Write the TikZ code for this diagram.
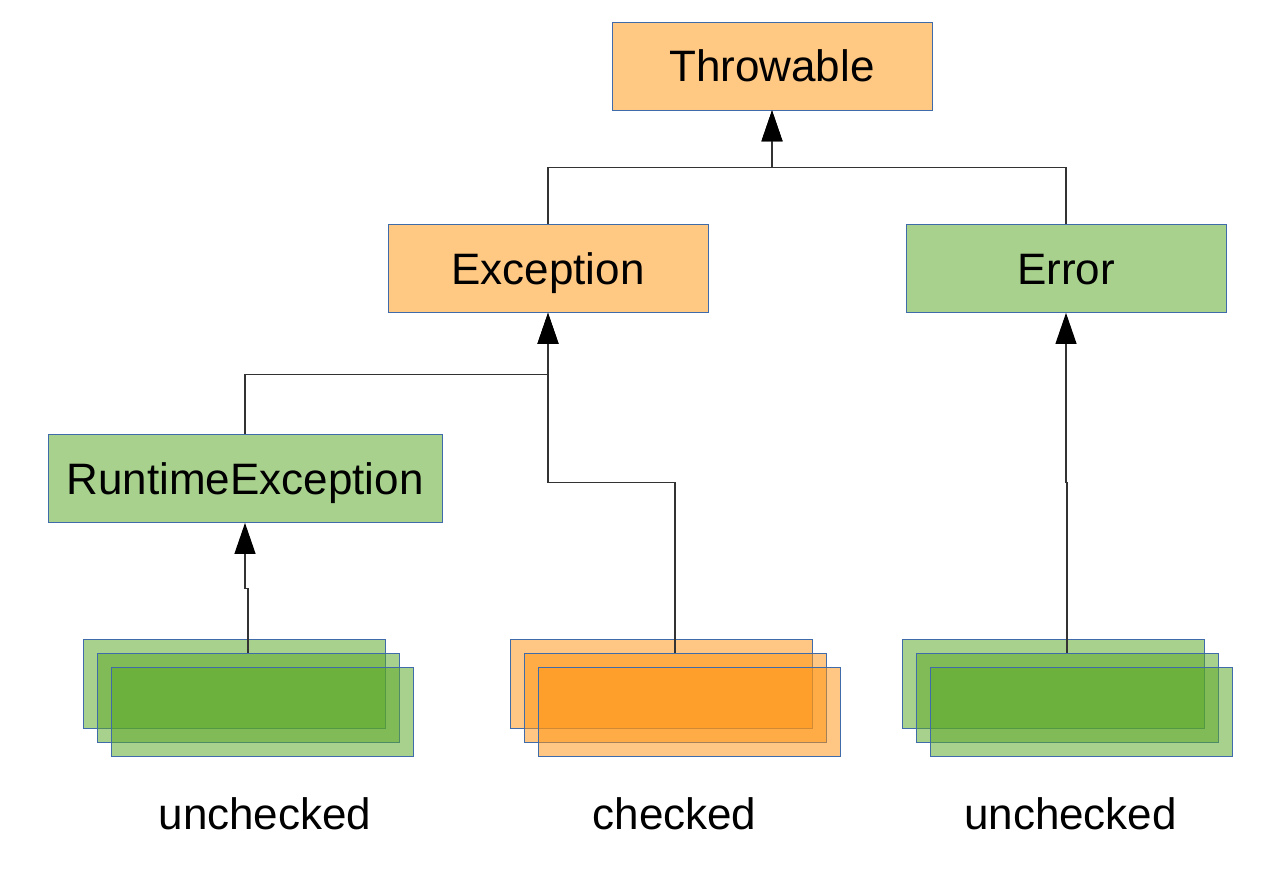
\documentclass[tikz,border=0pt]{standalone}
\usepackage{fontspec}
\setmainfont{Liberation Sans}
\usetikzlibrary{arrows.meta}
\definecolor{lorange}{HTML}{FFC883}
\definecolor{lgreen}{HTML}{A9D18E}
\definecolor{borderblue}{HTML}{3F6BAA}
\definecolor{stgreen}{RGB}{90,167,38}
\definecolor{storange}{RGB}{255,147,17}
\tikzset{
  cls/.style={draw=borderblue, line width=0.8pt, minimum width=320pt, minimum height=88pt,
    inner sep=0pt, font=\fontsize{44}{53}\selectfont, text height=31.5pt, text depth=0pt},
  ocls/.style={cls, fill=lorange},
  gcls/.style={cls, fill=lgreen},
  stk/.style={draw=borderblue, line width=0.8pt, minimum width=302pt, minimum height=89pt, inner sep=0pt},
  gstk/.style={stk, fill=stgreen, fill opacity=0.52},
  ostk/.style={stk, fill=storange, fill opacity=0.52},
  lbl/.style={font=\fontsize{44}{53}\selectfont, inner sep=0pt, text height=32pt, text depth=0pt},
  conn/.style={line width=1.1pt, draw=black!80},
  arr/.style={conn, -{Triangle[width=21pt,length=31pt,color=black]}},
}
\begin{document}
\begin{tikzpicture}[x=1pt,y=-1pt]
\useasboundingbox (0,0) rectangle (1273,872);
% class boxes
\node[ocls] (thr) at (772,66) {Throwable};
\node[ocls] (exc) at (548,268.5) {Exception};
\node[gcls] (err) at (1066,268.5) {Error};
\node[gcls, minimum width=394pt] (rte) at (245,478.5) {RuntimeException};
% stacks
\node[gstk] (ls1) at (234,683.5) {};
\node[gstk] (ls2) at (248,697.5) {};
\node[gstk] (ls3) at (262,711.5) {};
\node[ostk] (ms1) at (661,683.5) {};
\node[ostk] (ms2) at (675,697.5) {};
\node[ostk] (ms3) at (689,711.5) {};
\node[gstk] (rs1) at (1053,683.5) {};
\node[gstk] (rs2) at (1067,697.5) {};
\node[gstk] (rs3) at (1081,711.5) {};
% labels
\node[lbl] (l1) at (265,813) {unchecked};
\node[lbl] (l2) at (674.5,813) {checked};
\node[lbl] (l3) at (1070.5,813) {unchecked};
% connectors
\draw[arr] (exc.north) -- ++(0,-57) -| (thr.south);
\draw[arr] (err.north) -- ++(0,-57) -| (thr.south);
\draw[arr] (rte.north) -- ++(0,-60) -| (exc.south);
\draw[arr] (ms2.north) -- ++(0,-170) -| (exc.south);
\draw[arr] (rs2.north) -- ++(0,-170) -| (err.south);
\draw[arr] (ls2.north) -- ++(0,-64) -| (rte.south);
\end{tikzpicture}
\end{document}
